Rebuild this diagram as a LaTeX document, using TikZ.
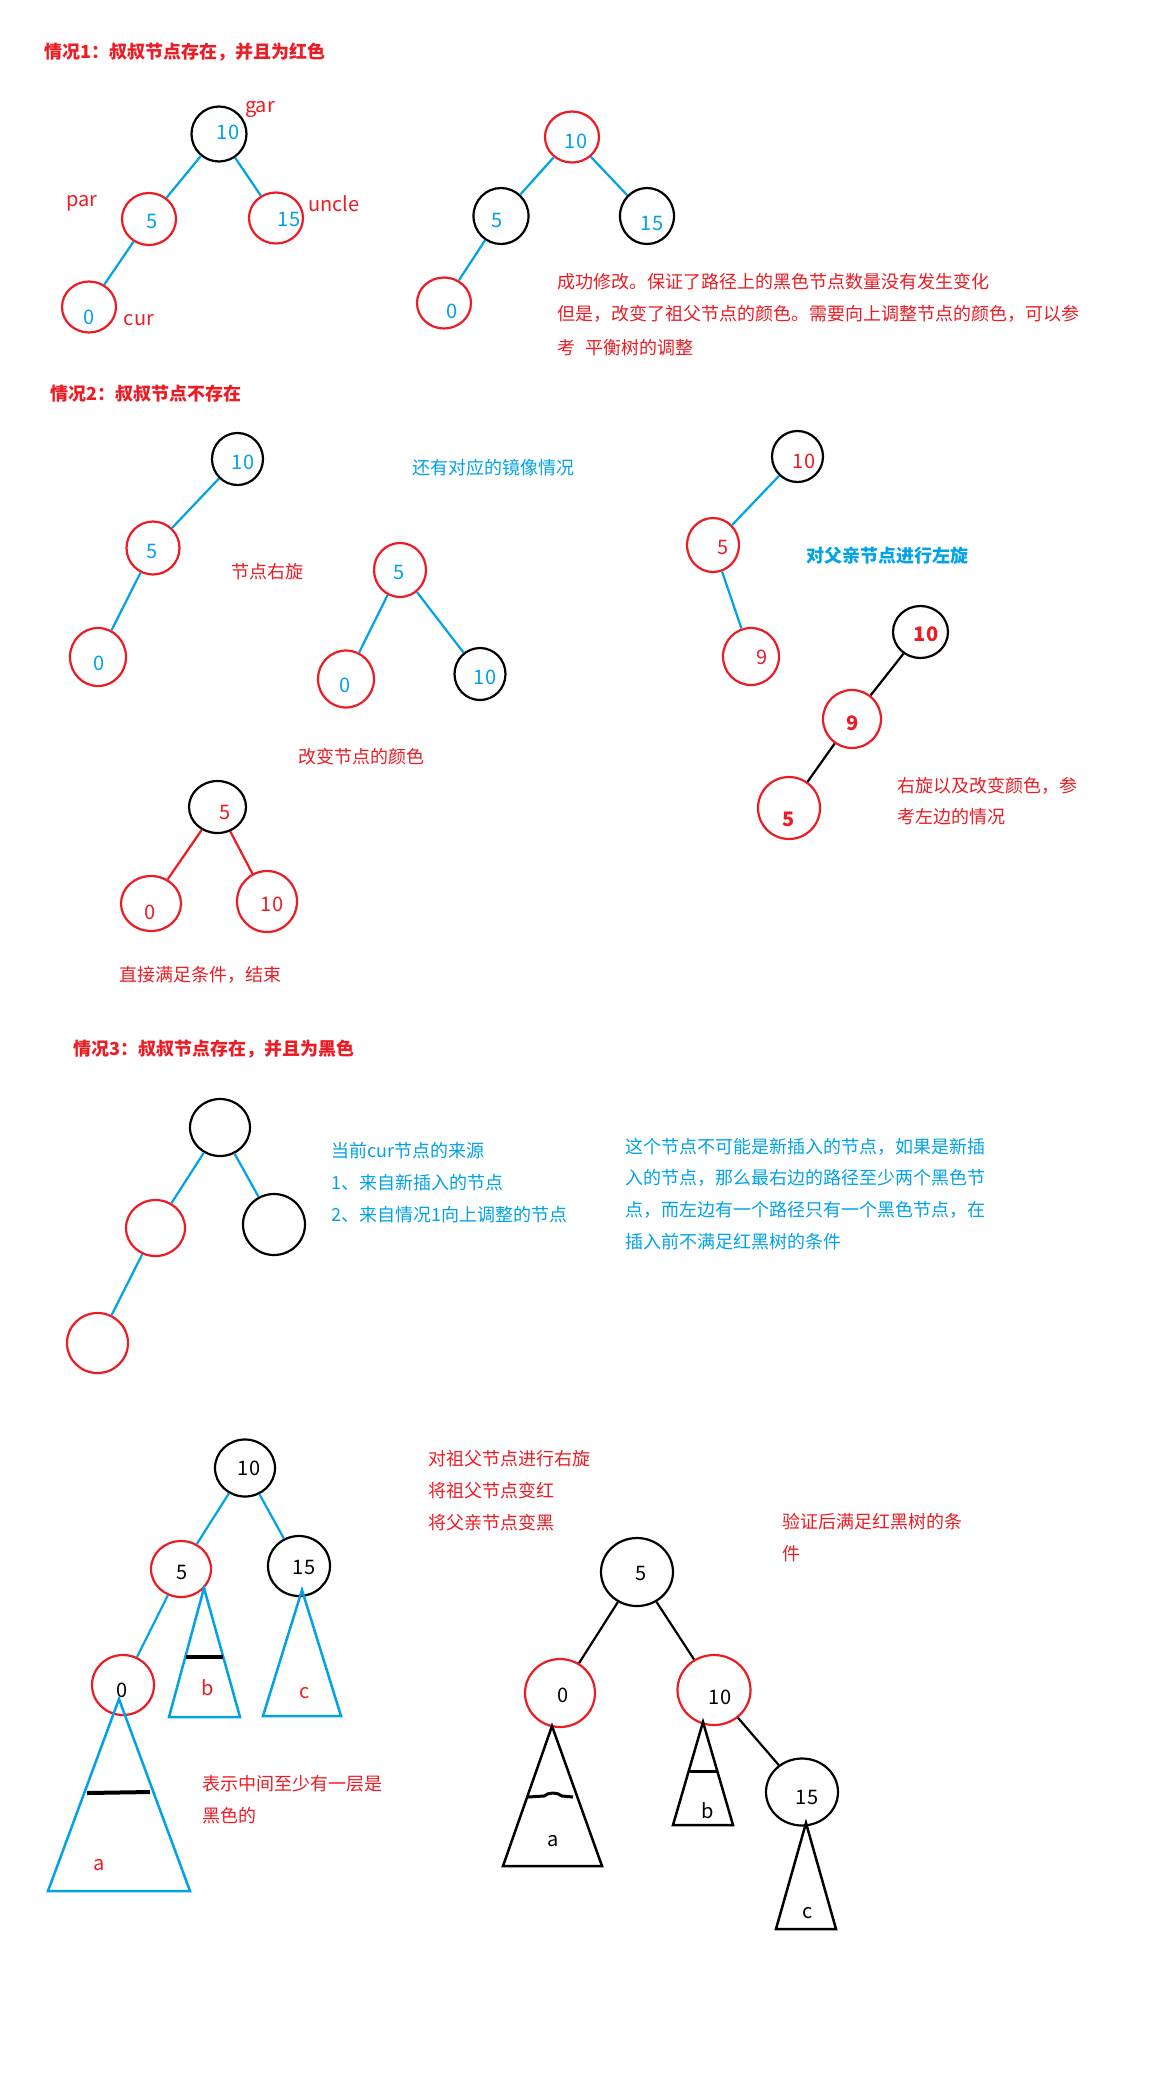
\documentclass[tikz,border=0pt]{standalone}
\usepackage{fontspec}
\setmainfont{Noto Sans CJK SC}
\usetikzlibrary{shapes.geometric}
\definecolor{pred}{HTML}{ED1C24}
\definecolor{pblue}{HTML}{00A2E8}
\begin{document}
\begin{tikzpicture}[x=1pt,y=-1pt,
  rc/.style 2 args={draw=pred,line width=2.2pt,ellipse,inner sep=0pt,minimum width=#1,minimum height=#2},
  kc/.style 2 args={draw=black,line width=2.2pt,ellipse,inner sep=0pt,minimum width=#1,minimum height=#2},
  bedge/.style={draw=pblue,line width=2.2pt},
  kedge/.style={draw=black,line width=2.2pt},
  redge/.style={draw=pred,line width=2.2pt},
  num/.style={inner sep=0pt,font=\fontsize{20}{24}\selectfont},
  bnum/.style={inner sep=0pt,font=\fontsize{20}{24}\selectfont\bfseries},
  txt/.style={inner sep=0pt,anchor=west,font=\fontsize{18}{22}\selectfont},
  btxt/.style={inner sep=0pt,anchor=west,font=\fontsize{18}{22}\selectfont\bfseries},
  btri/.style={draw=pblue,line width=2.5pt,line join=miter},
  ktri/.style={draw=black,line width=2.5pt,line join=miter},
  bar/.style={draw=black,line width=4pt}
]
\useasboundingbox[fill=white] (0,0) rectangle (1152,2081);

% ---------- Case 1 ----------
\node[btxt,text=pred] (t1) at (44,52) {情况1：叔叔节点存在，并且为红色};
\node[kc={55pt}{55pt}] (g1) at (219,134) {};
\node[rc={54pt}{52pt}] (p1) at (149,219) {};
\node[rc={54pt}{51pt}] (u1) at (276,218) {};
\node[rc={54pt}{51pt}] (c1) at (89,307) {};
\node[num,text=pblue] (g1t) at (228,132) {10};
\node[num,text=pblue] (p1t) at (152,221) {5};
\node[num,text=pblue] (u1t) at (289,219) {15};
\node[num,text=pblue] (c1t) at (89,317) {0};
\node[num,text=pred] (lgar) at (260,109) {gar};
\node[num,text=pred] (lpar) at (82,203) {par};
\node[num,text=pred] (lunc) at (334,204) {uncle};
\node[num,text=pred] (lcur) at (139,320) {cur};
\draw[bedge] (g1) -- (p1);
\draw[bedge] (g1) -- (u1);
\draw[bedge] (p1) -- (c1);

\node[rc={54pt}{51pt}] (g2) at (572,137) {};
\node[kc={55pt}{56pt}] (p2) at (501,216) {};
\node[kc={54pt}{56pt}] (u2) at (647,216) {};
\node[rc={54pt}{51pt}] (c2) at (444,303) {};
\node[num,text=pblue] (g2t) at (576,141) {10};
\node[num,text=pblue] (p2t) at (497,220) {5};
\node[num,text=pblue] (u2t) at (652,223) {15};
\node[num,text=pblue] (c2t) at (452,311) {0};
\draw[bedge] (g2) -- (p2);
\draw[bedge] (g2) -- (u2);
\draw[bedge] (p2) -- (c2);
\node[txt,text=pred] (s1a) at (557,282) {成功修改。保证了路径上的黑色节点数量没有发生变化};
\node[txt,text=pred] (s1b) at (557,314) {但是，改变了祖父节点的颜色。需要向上调整节点的颜色，可以参};
\node[txt,text=pred] (s1c) at (557,348) {考\hspace{10pt}平衡树的调整};

% ---------- Case 2 ----------
\node[btxt,text=pred] (t2) at (50,394) {情况2：叔叔节点不存在};
\node[kc={51pt}{52pt}] (a10) at (237.5,459) {};
\node[rc={53pt}{53pt}] (a5) at (153,548) {};
\node[rc={56pt}{58pt}] (a0) at (98,657) {};
\node[num,text=pblue] (a10t) at (243,462) {10};
\node[num,text=pblue] (a5t) at (152,551) {5};
\node[num,text=pblue] (a0t) at (99,663) {0};
\draw[bedge] (a10) -- (a5);
\draw[bedge] (a5) -- (a0);
\node[txt,text=pred] (rot1) at (231,572) {节点右旋};
\node[txt,text=pblue] (mir) at (412,468) {还有对应的镜像情况};

\node[rc={52pt}{54pt}] (b5) at (400,570) {};
\node[rc={56pt}{57pt}] (b0) at (346,679) {};
\node[kc={51pt}{52pt}] (b10) at (480,674) {};
\node[num,text=pblue] (b5t) at (399,572) {5};
\node[num,text=pblue] (b0t) at (345,685) {0};
\node[num,text=pblue] (b10t) at (485,677) {10};
\draw[bedge] (b5) -- (b0);
\draw[bedge] (b5) -- (b10);

\node[kc={51pt}{51pt}] (c10) at (797.5,456.5) {};
\node[rc={52pt}{54pt}] (c5) at (713,545) {};
\node[rc={56pt}{57pt}] (c9) at (751,656.5) {};
\node[num,text=pred] (c10t) at (804,461) {10};
\node[num,text=pred] (c5t) at (723,547) {5};
\node[num,text=pred] (c9t) at (762,657) {9};
\draw[bedge] (c10) -- (c5);
\draw[bedge] (c5) -- (c9);
\node[btxt,text=pblue] (lrot) at (806,556) {对父亲节点进行左旋};

\node[kc={55pt}{52pt}] (d10) at (920.5,632) {};
\node[rc={58pt}{58pt}] (d9) at (852,719) {};
\node[rc={62pt}{62pt}] (d5) at (789,808) {};
\node[bnum,text=pred] (d10t) at (926,634) {10};
\node[bnum,text=pred] (d9t) at (853,723) {9};
\node[bnum,text=pred] (d5t) at (789,819) {5};
\draw[kedge] (d10) -- (d9);
\draw[kedge] (d9) -- (d5);
\node[txt,text=pred] (dtx1) at (897,786) {右旋以及改变颜色，参};
\node[txt,text=pred] (dtx2) at (897,817) {考左边的情况};

\node[txt,text=pred] (chg) at (298,757) {改变节点的颜色};
\node[kc={57pt}{52pt}] (e5) at (217.5,807) {};
\node[rc={60pt}{55pt}] (e0) at (151,903.5) {};
\node[rc={60pt}{61pt}] (e10) at (267,901.5) {};
\node[num,text=pred] (e5t) at (225,812) {5};
\node[num,text=pred] (e0t) at (150,912) {0};
\node[num,text=pred] (e10t) at (272,904) {10};
\draw[redge] (e5) -- (e0);
\draw[redge] (e5) -- (e10);
\node[txt,text=pred] (done) at (119,975) {直接满足条件，结束};

% ---------- Case 3 ----------
\node[btxt,text=pred] (t3) at (73,1049) {情况3：叔叔节点存在，并且为黑色};
\node[kc={60pt}{57pt}] (f1) at (220,1127.5) {};
\node[rc={59pt}{56pt}] (f2) at (155.5,1228) {};
\node[kc={62pt}{61pt}] (f3) at (274,1224.5) {};
\node[rc={61pt}{60pt}] (f4) at (97.5,1343) {};
\draw[bedge] (f1) -- (f2);
\draw[bedge] (f1) -- (f3);
\draw[bedge] (f2) -- (f4);
\node[txt,text=pblue] (src1) at (331.5,1151) {当前cur节点的来源};
\node[txt,text=pblue] (src2) at (331.5,1183) {1、来自新插入的节点};
\node[txt,text=pblue] (src3) at (331.5,1215) {2、来自情况1向上调整的节点};
\node[txt,text=pblue] (why1) at (625.5,1147) {这个节点不可能是新插入的节点，如果是新插};
\node[txt,text=pblue] (why2) at (625.5,1178) {入的节点，那么最右边的路径至少两个黑色节};
\node[txt,text=pblue] (why3) at (625.5,1210) {点，而左边有一个路径只有一个黑色节点，在};
\node[txt,text=pblue] (why4) at (625.5,1242) {插入前不满足红黑树的条件};

% lower left tree
\node[kc={60pt}{57pt}] (h10) at (245,1468) {};
\node[rc={60pt}{56pt}] (h5) at (181,1569) {};
\node[kc={62pt}{60pt}] (h15) at (299,1566) {};
\node[rc={62pt}{60pt}] (h0) at (123,1685) {};
\node[num] (h10t) at (249,1468) {10};
\node[num] (h5t) at (182,1572) {5};
\node[num] (h15t) at (304,1567) {15};
\node[num] (h0t) at (122,1690) {0};
\draw[bedge] (h10) -- (h5);
\draw[bedge] (h10) -- (h15);
\draw[bedge] (h5) -- (h0);
\draw[btri] (204,1588) -- (169,1717) -- (240,1717) -- cycle;
\draw[bar] (186,1657) -- (223,1657);
\node[num,text=pred] (hb) at (208,1688) {b};
\draw[btri] (302,1590) -- (263,1716) -- (341,1716) -- cycle;
\node[num,text=pred] (hc) at (305,1693) {c};
\draw[btri] (119,1699) -- (48,1891) -- (190,1891) -- cycle;
\draw[bar] (87,1793) -- (150,1792);
\node[num,text=pred] (ha) at (99,1865) {a};
\node[txt,text=pred] (note1) at (202,1784) {表示中间至少有一层是};
\node[txt,text=pred] (note2) at (202,1816) {黑色的};
\node[txt,text=pred] (op1) at (428,1459) {对祖父节点进行右旋};
\node[txt,text=pred] (op2) at (428,1491) {将祖父节点变红};
\node[txt,text=pred] (op3) at (428,1523) {将父亲节点变黑};

% lower right tree
\node[kc={72pt}{68pt}] (k5) at (637,1572) {};
\node[rc={70pt}{68pt}] (k0) at (560,1693) {};
\node[rc={73pt}{70pt}] (k10) at (714,1690) {};
\node[kc={72pt}{67pt}] (k15) at (802,1792) {};
\node[num] (k5t) at (641,1573) {5};
\node[num] (k0t) at (563,1695) {0};
\node[num] (k10t) at (720,1697) {10};
\node[num] (k15t) at (807,1797) {15};
\draw[kedge] (k5) -- (k0);
\draw[kedge] (k5) -- (k10);
\draw[kedge] (k10) -- (k15);
\draw[ktri] (552,1726) -- (503,1866) -- (602,1866) -- cycle;
\draw[line width=3pt] (528,1797) -- (544,1796) .. controls (549,1792) and (557,1792) .. (562,1796) -- (573,1797);
\node[num] (ka) at (553,1841) {a};
\draw[ktri] (703,1722) -- (673,1825) -- (733,1825) -- cycle;
\draw[line width=3pt] (690,1771) -- (717,1771);
\node[num] (kb) at (708,1811) {b};
\draw[ktri] (806,1823) -- (776,1929) -- (836,1929) -- cycle;
\node[num] (kc) at (808,1913) {c};
\node[txt,text=pred] (ok1) at (782,1522) {验证后满足红黑树的条};
\node[txt,text=pred] (ok2) at (782,1554) {件};
\end{tikzpicture}
\end{document}
